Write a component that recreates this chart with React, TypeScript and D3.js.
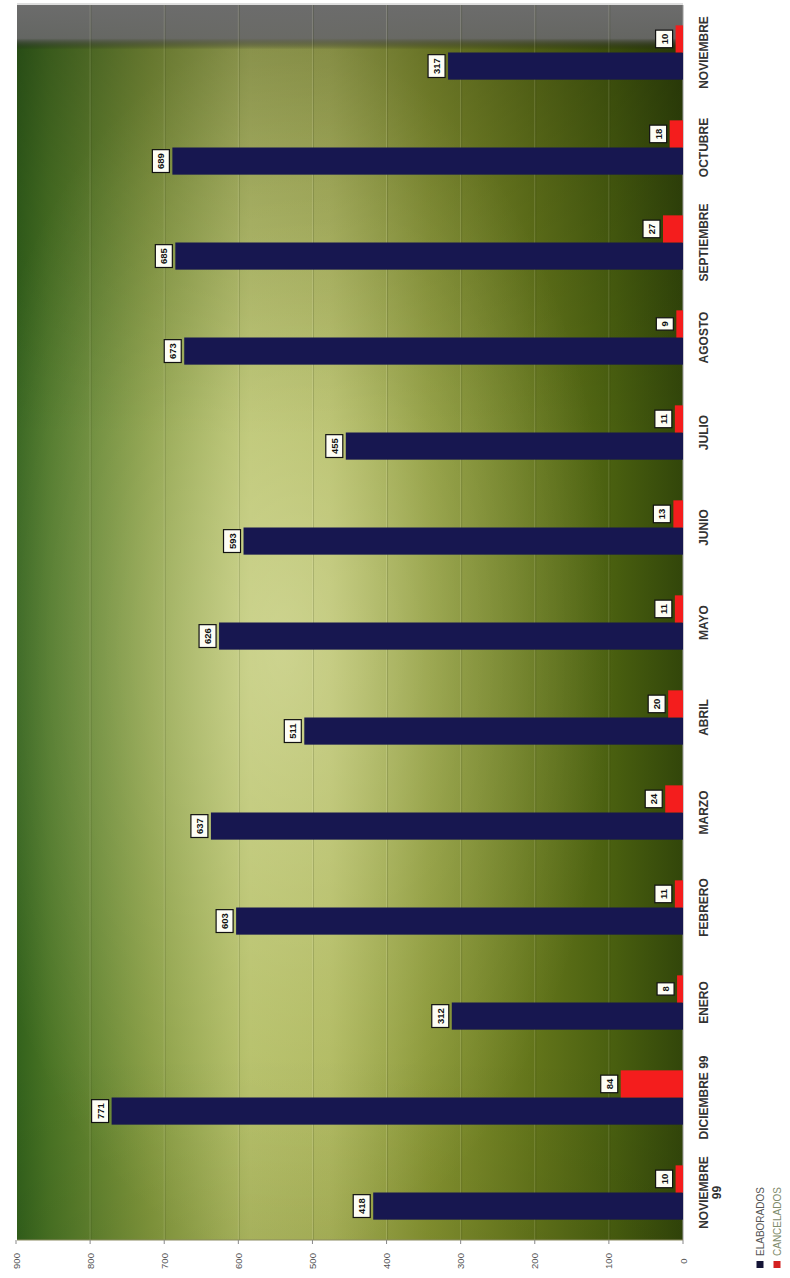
import React from "react";
import * as d3 from "d3";

const categories = ["NOVIEMBRE 99", "DICIEMBRE 99", "ENERO", "FEBRERO", "MARZO", "ABRIL", "MAYO", "JUNIO", "JULIO", "AGOSTO", "SEPTIEMBRE", "OCTUBRE", "NOVIEMBRE"];
const elaborados = [418, 771, 312, 603, 637, 511, 626, 593, 455, 673, 685, 689, 317];
const cancelados = [10, 84, 8, 11, 24, 20, 11, 13, 11, 9, 27, 18, 10];
const seriesNames = ["ELABORADOS", "CANCELADOS"];
const valueTicks = [0, 100, 200, 300, 400, 500, 600, 700, 800, 900];
const wrappedCategory = "NOVIEMBRE 99";

const W = 790;
const H = 1278;
const plotLeft = 17;
const plotRight = 683;
const plotTop = 5;
const plotBottom = 1240;

const seriesColors = ["#171750", "#f41d1d"];
const legendSwatch = ["#141436", "#d42020"];
const legendText = ["#555555", "#7f8c6c"];

export default function App() {
  const x = d3.scaleLinear().domain([0, 900]).range([plotRight, 16]);
  const y = d3.scaleBand<string>().domain(categories).range([plotBottom, plotTop]).padding(0);
  const sub = d3
    .scaleBand<string>()
    .domain(seriesNames)
    .range([y.bandwidth(), 0])
    .paddingInner(0)
    .paddingOuter(0.75);
  const values = [elaborados, cancelados];
  const fsVal = 9.5;
  const bw = sub.bandwidth();

  const rot = (cx: number, cy: number) => `translate(${cx},${cy}) rotate(-90)`;

  return (
    <svg
      width={W}
      height={H}
      style={{ position: "absolute", left: 0, top: 0, background: "#ffffff" }}
      fontFamily="Arial, 'Liberation Sans', sans-serif"
    >
      <defs>
        <linearGradient id="base" x1="0" y1="0" x2="1" y2="0">
          <stop offset="0" stopColor="#33621c" />
          <stop offset="0.05" stopColor="#4a7424" />
          <stop offset="0.2" stopColor="#82983c" />
          <stop offset="0.35" stopColor="#b0bb60" />
          <stop offset="0.47" stopColor="#abb558" />
          <stop offset="0.62" stopColor="#859330" />
          <stop offset="0.77" stopColor="#64761b" />
          <stop offset="0.9" stopColor="#485e0f" />
          <stop offset="1" stopColor="#32460a" />
        </linearGradient>
        <radialGradient id="glow" cx="0.4" cy="0.52" r="0.5">
          <stop offset="0" stopColor="#ffffe0" stopOpacity="0.38" />
          <stop offset="0.55" stopColor="#ffffe0" stopOpacity="0.15" />
          <stop offset="1" stopColor="#ffffe0" stopOpacity="0" />
        </radialGradient>
        <linearGradient id="topshade" x1="0" y1="0" x2="0" y2="1">
          <stop offset="0" stopColor="#6c6c6c" stopOpacity="1" />
          <stop offset="0.027" stopColor="#666666" stopOpacity="0.95" />
          <stop offset="0.036" stopColor="#000000" stopOpacity="0.22" />
          <stop offset="0.15" stopColor="#000000" stopOpacity="0.12" />
          <stop offset="0.35" stopColor="#000000" stopOpacity="0" />
          <stop offset="0.85" stopColor="#000000" stopOpacity="0" />
          <stop offset="1" stopColor="#000000" stopOpacity="0.06" />
        </linearGradient>
      </defs>

      {/* plot background */}
      <rect x={plotLeft} y={plotTop} width={plotRight - plotLeft} height={plotBottom - plotTop} fill="url(#base)" />
      <rect x={plotLeft} y={plotTop} width={plotRight - plotLeft} height={plotBottom - plotTop} fill="url(#glow)" />
      <rect x={plotLeft} y={plotTop} width={plotRight - plotLeft} height={plotBottom - plotTop} fill="url(#topshade)" />

      {/* gridlines */}
      {valueTicks.slice(1, -1).map((v) => (
        <g key={"g" + v}>
          <line x1={x(v)} x2={x(v)} y1={plotTop} y2={plotBottom} stroke="rgba(255,255,220,0.17)" strokeWidth={1} />
          <line x1={x(v) + 1} x2={x(v) + 1} y1={plotTop} y2={plotBottom} stroke="rgba(40,50,10,0.18)" strokeWidth={1} />
        </g>
      ))}

      {/* plot frame */}
      <line x1={plotRight} x2={plotRight} y1={plotTop} y2={plotBottom} stroke="#9a9a9a" strokeWidth={1} />
      <line x1={plotLeft} x2={plotRight} y1={plotBottom} y2={plotBottom} stroke="#8a8a60" strokeWidth={1} />
      <line x1={plotLeft} x2={plotRight} y1={plotTop - 1} y2={plotTop - 1} stroke="#bdbdbd" strokeWidth={1} />

      {/* value axis ticks */}
      {valueTicks.map((v) => (
        <g key={"t" + v}>
          <line x1={x(v)} x2={x(v)} y1={plotBottom} y2={plotBottom + 4} stroke="#888" />
          <text
            transform={rot(x(v), plotBottom + 21)}
            textAnchor="middle"
            dominantBaseline="central"
            fontSize={9.5}
            fill="#555"
          >
            {v}
          </text>
        </g>
      ))}

      {/* bars */}
      {categories.map((c, i) => (
        <g key={"c" + c}>
          {seriesNames.map((s, si) => {
            const v = values[si][i];
            const by = (y(c) as number) + (sub(s) as number);
            return (
              <rect
                key={s}
                x={x(v)}
                y={by}
                width={plotRight - x(v)}
                height={bw}
                fill={seriesColors[si]}
              />
            );
          })}
        </g>
      ))}

      {/* value labels */}
      {categories.map((c, i) => (
        <g key={"l" + c}>
          {seriesNames.map((s, si) => {
            const v = values[si][i];
            const cy = (y(c) as number) + (sub(s) as number) + bw / 2;
            const label = String(v);
            const boxW = label.length * fsVal * 0.556 + 7;
            const boxH = 17;
            const cx = x(v) - 3 - boxH / 2;
            return (
              <g key={s} transform={rot(cx, cy)}>
                <rect x={-boxW / 2} y={-boxH / 2} width={boxW} height={boxH} fill="#fdfdf5" stroke="#111" strokeWidth={1.2} />
                <text textAnchor="middle" dominantBaseline="central" fontSize={fsVal} fontWeight="bold" fill="#111">
                  {label}
                </text>
              </g>
            );
          })}
        </g>
      ))}

      {/* category labels */}
      {categories.map((c) => {
        const cy = (y(c) as number) + y.bandwidth() / 2;
        const lines = c === wrappedCategory ? c.split(" ") : [c];
        return (
          <text
            key={"cat" + c}
            transform={rot(704, cy)}
            textAnchor="middle"
            dominantBaseline="central"
            fontSize={12}
            fontWeight="bold"
            fill="#333"
          >
            {lines.map((ln, li) => (
              <tspan key={li} x={0} dy={li === 0 ? 0 : 13}>
                {ln}
              </tspan>
            ))}
          </text>
        );
      })}

      {/* legend */}
      {seriesNames.map((s, si) => {
        const lx = 760 + si * 17;
        return (
          <g key={"leg" + s}>
            <rect x={lx - 3.5} y={1261} width={7} height={7} fill={legendSwatch[si]} />
            <text
              transform={rot(lx, 1256)}
              textAnchor="start"
              dominantBaseline="central"
              fontSize={10}
              fill={legendText[si]}
            >
              {s}
            </text>
          </g>
        );
      })}
    </svg>
  );
}
